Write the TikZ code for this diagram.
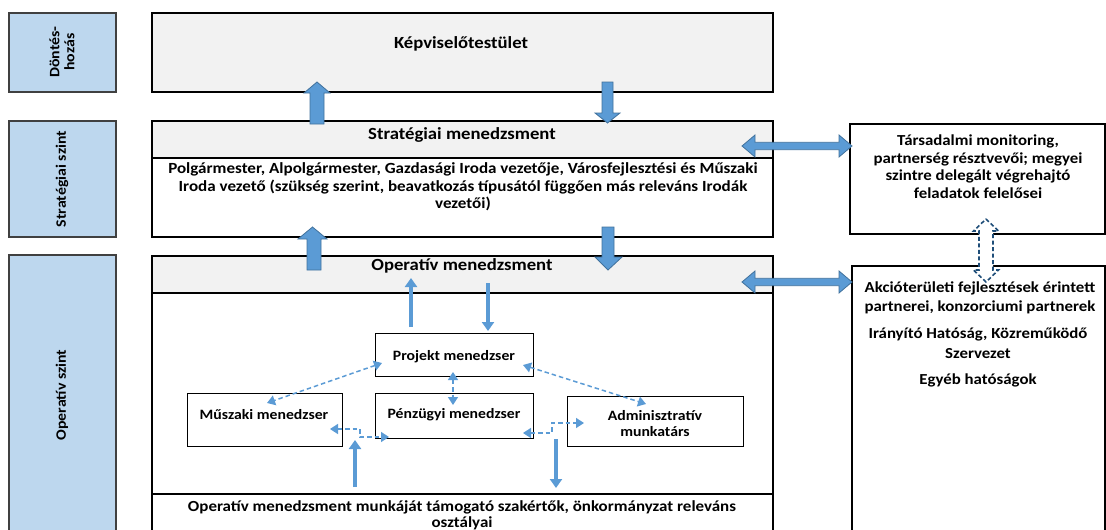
\documentclass[tikz,border=0pt]{standalone}
\usepackage{fontspec}
\setmainfont{Carlito}[FakeStretch=1.1]
\usetikzlibrary{arrows.meta,calc}
\definecolor{blk}{HTML}{5B9BD5}
\definecolor{blkedge}{HTML}{41719C}
\definecolor{lblue}{HTML}{BDD7EE}
\definecolor{band}{HTML}{F2F2F2}
\definecolor{dkblue}{HTML}{1F4E79}
\tikzset{
  mainbox/.style={draw=black, line width=1.8pt},
  levelbox/.style={draw=black!75, fill=lblue, line width=1.4pt},
  innerbox/.style={draw=black, line width=1.3pt, fill=white},
  blockarrow/.style={fill=blk, draw=blkedge, line width=0.8pt, line join=miter},
  dasharrow/.style={fill=white, draw=dkblue, line width=1.6pt, dash pattern=on 4pt off 2.5pt},
  dashlink/.style={draw=blk, line width=1.5pt, dash pattern=on 4.5pt off 3pt, {Triangle[length=8pt,width=10pt]}-{Triangle[length=8pt,width=10pt]}},
  solidlink/.style={draw=blk, line width=3.2pt, -{Triangle[length=9pt,width=12pt]}},
  hd/.style={font=\bfseries\fontsize{17}{18}\selectfont, align=center},
  tx/.style={font=\bfseries\fontsize{15.5}{17.3}\selectfont, align=center},
  rt/.style={font=\bfseries\fontsize{15.3}{17.6}\selectfont, align=center},
  sm/.style={font=\bfseries\fontsize{14.3}{16}\selectfont, align=center},
  lv/.style={font=\bfseries\fontsize{14.4}{15}\selectfont, align=center, rotate=90},
}
\begin{document}
\begin{tikzpicture}[x=1pt,y=-1pt]
\useasboundingbox (0,0) rectangle (1106,530);

% level boxes
\draw[levelbox] (9,13) rectangle (116,92);
\draw[levelbox] (9,121) rectangle (116,237);
\draw[levelbox] (9,255) rectangle (116,545);
\node[lv] (l1) at (62,52) {Döntés-\\hozás};
\node[lv] (l2) at (62,179) {Stratégiai szint};
\node[lv] (l3) at (62,395) {Operatív szint};

% Képviselőtestület
\draw[mainbox, fill=band] (152,13) rectangle (773,92);
\node[hd] (kep) at (461,44) {Képviselőtestület};

% Stratégiai
\fill[band] (152,121) rectangle (773,158);
\draw[mainbox] (152,121) rectangle (773,237);
\draw[line width=1.4pt] (152,158) -- (773,158);
\node[hd] (strat) at (462,135) {Stratégiai menedzsment};
\node[tx] (polg) at (463,187) {Polgármester, Alpolgármester, Gazdasági Iroda vezetője, Városfejlesztési és Műszaki\\Iroda vezető (szükség szerint, beavatkozás típusától függően más releváns Irodák\\vezetői)};

% Operatív
\fill[band] (152,256) rectangle (773,293);
\draw[mainbox] (152,256) rectangle (773,545);
\draw[line width=1.4pt] (152,293) -- (773,293);
\draw[line width=1.4pt] (152,494) -- (773,494);
\node[hd] (oper) at (462,266) {Operatív menedzsment};
\node[tx, font=\bfseries\fontsize{15.4}{16}\selectfont] (supp) at (462,515) {Operatív menedzsment munkáját támogató szakértők, önkormányzat releváns\\osztályai};

% right boxes
\draw[line width=1.4pt] (850,124) rectangle (1105,234);
\node[rt] (tars) at (978,166.5) {Társadalmi monitoring,\\partnerség résztvevői; megyei\\szintre delegált végrehajtó\\feladatok felelősei};
\draw[line width=1.4pt] (852,266) rectangle (1105,545);
\node[rt, font=\bfseries\fontsize{15.3}{19}\selectfont] (akc) at (980,297.5) {Akcióterületi fejlesztések érintett\\partnerei, konzorciumi partnerek};
\node[rt, font=\bfseries\fontsize{15.3}{20}\selectfont] (iran) at (978,343) {Irányító Hatóság, Közreműködő\\Szervezet};
\node[rt] (egyeb) at (978,380) {Egyéb hatóságok};

% inner boxes
\node[innerbox, anchor=north west, minimum width=158pt, minimum height=43pt] (proj) at (375,333) {};
\node[sm] (projt) at (454,357) {Projekt menedzser};
\node[innerbox, anchor=north west, minimum width=158pt, minimum height=45pt] (penz) at (375,393) {};
\node[sm] (penzt) at (454,415) {Pénzügyi menedzser};
\node[innerbox, anchor=north west, minimum width=155pt, minimum height=53pt] (musz) at (187,393) {};
\node[sm] (muszt) at (264,415) {Műszaki menedzser};
\node[innerbox, anchor=north west, minimum width=176pt, minimum height=50pt] (adm) at (567,396) {};
\node[sm] (admt) at (655,424) {Adminisztratív\\munkatárs};

% block arrows
\draw[blockarrow] (310,124) -- (310,93) -- (304,93) -- (317,82) -- (330,93) -- (324,93) -- (324,124) -- cycle;
\draw[blockarrow] (602,82) -- (602,113) -- (595,113) -- (607.5,123) -- (620,113) -- (613,113) -- (613,82) -- cycle;
\draw[blockarrow] (307,270) -- (307,239) -- (298,239) -- (312.5,227) -- (327,239) -- (321,239) -- (321,270) -- cycle;
\draw[blockarrow] (602,227) -- (602,257) -- (595,257) -- (608,270) -- (622,257) -- (614,257) -- (614,227) -- cycle;
\foreach \yy in {146,282}{
\draw[blockarrow] (742,\yy) -- (755,\yy-11) -- (755,\yy-3.7) -- (839,\yy-3.7) -- (839,\yy-11) -- (852,\yy) -- (839,\yy+11) -- (839,\yy+3.7) -- (755,\yy+3.7) -- (755,\yy+11) -- cycle;
}
\draw[dasharrow] (986,219) -- (998.5,231) -- (993,231) -- (993,270) -- (998.5,270) -- (986,282) -- (973.5,270) -- (979,270) -- (979,231) -- (973.5,231) -- cycle;

% solid connectors
\coordinate (opU) at (411,278);
\coordinate (opD) at (488,283);
\draw[solidlink] ($(proj.north west)+(36,-6)$) -- (opU);
\draw[solidlink] (opD) -- ($(proj.north west)+(113,-2)$);
\coordinate (sup1) at (355,487);
\coordinate (sup2) at (556,488);
\draw[solidlink] (sup1) -- (355,440);
\draw[solidlink] (556,439) -- (sup2);

% dashed connectors
\coordinate (pmL) at (382,363);
\coordinate (muT) at (267,403);
\draw[dashlink] (pmL) -- (muT);
\coordinate (pmB) at (453,372);
\coordinate (pzT) at (453,405);
\draw[dashlink] (pmB) -- (pzT);
\coordinate (pmR) at (523,365);
\coordinate (adT) at (646,404);
\draw[dashlink] (pmR) -- (adT);
\coordinate (muR) at (330,429);
\coordinate (pzL) at (389,437);
\draw[dashlink] (muR) -- (360,429) -- (360,437) -- (pzL);
\coordinate (pzR) at (523,433);
\coordinate (adL) at (584,423);
\draw[dashlink] (pzR) -- (552,433) -- (552,423) -- (adL);
\end{tikzpicture}
\end{document}
